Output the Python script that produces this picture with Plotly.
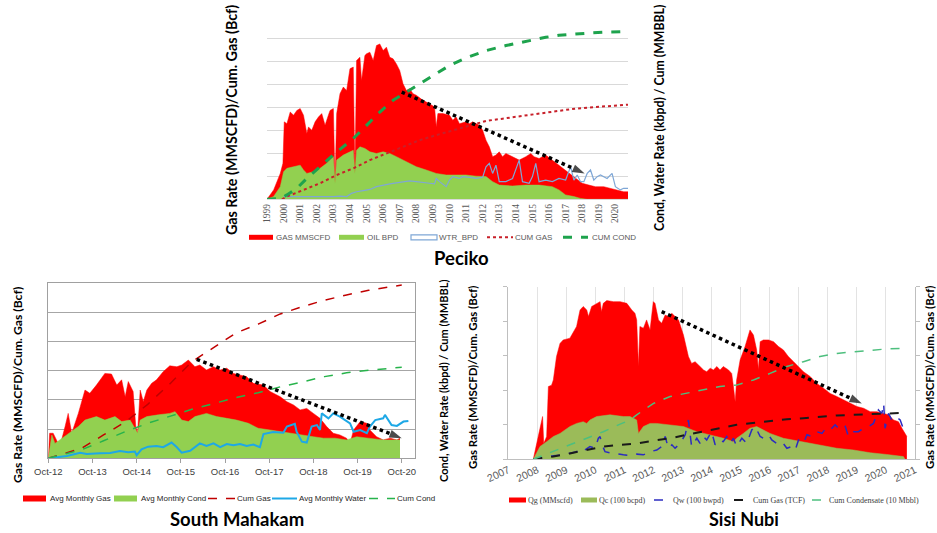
import plotly.graph_objects as go

W, H = 937, 533

# ======================= DATA =======================
# ---- Peciko (values in chart grid units; 8 gridlines) ----
pec_years = list(range(1999, 2021))
pec_ticktext = [str(y) for y in pec_years]
pec_names = ["GAS MMSCFD", "OIL BPD", "WTR_BPD", "CUM GAS", "CUM COND"]

pec_gas_x = [1999.0, 1999.4, 1999.8, 1999.96, 2000.04, 2000.2, 2000.4, 2000.6, 2000.8, 2001.0,
             2001.2, 2001.4, 2001.5, 2001.7, 2001.9, 2002.1, 2002.3, 2002.5, 2002.7, 2002.8,
             2003.0, 2003.1, 2003.2, 2003.4, 2003.6, 2003.8, 2004.0, 2004.2, 2004.3, 2004.4,
             2004.6, 2004.7, 2004.9, 2005.0, 2005.2, 2005.4, 2005.6, 2005.8, 2006.0, 2006.2,
             2006.4, 2006.6, 2006.8, 2007.0, 2007.2, 2007.4, 2007.6, 2007.8, 2008.0, 2008.4,
             2008.8, 2009.1, 2009.2, 2009.3, 2009.6, 2010.0, 2010.2, 2010.4, 2010.6, 2011.0,
             2011.2, 2011.4, 2011.8, 2012.0, 2012.2, 2012.4, 2012.6, 2012.8, 2013.0, 2013.2,
             2013.4, 2013.8, 2014.2, 2014.6, 2014.9, 2015.1, 2015.4, 2015.8, 2016.2, 2016.4,
             2016.8, 2017.2, 2017.6, 2018.0, 2018.4, 2018.8, 2019.3, 2019.7, 2020.1, 2020.5, 2020.76]
pec_gas_y = [0, 0.41, 1.13, 1.57, 3.38, 3.30, 3.81, 3.67, 3.88, 3.96,
             3.67, 2.87, 3.16, 3.01, 3.38, 3.59, 3.74, 3.23, 3.67, 3.88,
             3.96, 0.70, 3.74, 4.61, 4.90, 4.75, 5.70, 5.77, 1.13, 6.06,
             6.20, 5.19, 6.28, 6.35, 6.42, 6.06, 6.71, 6.78, 6.49, 6.64,
             6.20, 6.13, 5.91, 5.62, 5.04, 4.75, 4.83, 4.61, 4.54, 4.32,
             4.17, 4.03, 3.16, 3.74, 3.74, 3.67, 3.45, 3.59, 3.30, 3.38,
             3.30, 3.38, 3.23, 3.01, 2.58, 2.29, 1.86, 1.93, 2.07, 1.86,
             2.00, 1.86, 1.71, 1.86, 2.00, 1.86, 1.78, 1.93, 1.71, 1.57,
             1.35, 1.13, 0.91, 0.70, 0.62, 0.55, 0.55, 0.48, 0.41, 0.33, 0.33]

pec_oil_x = [1999.0, 1999.4, 1999.8, 2000.0, 2000.2, 2000.6, 2001.0, 2001.2, 2001.4, 2001.8,
             2002.2, 2002.6, 2003.0, 2003.1, 2003.2, 2003.6, 2004.0, 2004.2, 2004.3, 2004.4,
             2004.6, 2004.9, 2005.2, 2005.6, 2006.0, 2006.4, 2006.8, 2007.2, 2007.6, 2008.0,
             2008.6, 2009.2, 2009.8, 2010.4, 2011.0, 2011.6, 2012.2, 2012.6, 2013.0, 2013.8,
             2014.6, 2015.4, 2016.2, 2016.6, 2017.0, 2017.5, 2017.9, 2018.3, 2020.76]
pec_oil_y = [0, 0.12, 0.55, 1.20, 1.35, 1.42, 1.49, 1.28, 1.13, 1.20,
             1.35, 1.57, 1.86, 0.70, 1.71, 1.93, 2.07, 2.14, 1.13, 2.14,
             2.29, 2.22, 2.07, 2.00, 2.07, 2.00, 1.86, 1.71, 1.57, 1.42,
             1.28, 1.13, 1.06, 1.06, 1.06, 1.01, 0.99, 0.77, 0.62, 0.58,
             0.62, 0.62, 0.55, 0.41, 0.19, 0.12, 0.04, 0, 0]

pec_wtr_x = [2000.0, 2001.2, 2002.2, 2003.0, 2003.4, 2003.8, 2004.1, 2004.4, 2004.8, 2005.2,
             2005.6, 2006.0, 2006.4, 2006.8, 2007.2, 2007.6, 2008.0, 2008.4, 2008.8, 2009.1,
             2009.2, 2009.4, 2009.8, 2010.0, 2010.2, 2010.6, 2010.8, 2011.2, 2011.6, 2012.0,
             2012.2, 2012.4, 2012.6, 2012.8, 2013.0, 2013.4, 2013.8, 2014.2, 2014.4, 2014.8,
             2015.0, 2015.2, 2015.4, 2015.8, 2016.2, 2016.6, 2017.0, 2017.3, 2017.5, 2017.7,
             2017.9, 2018.1, 2018.3, 2018.5, 2018.7, 2018.9, 2019.1, 2019.5, 2019.8, 2020.0,
             2020.3, 2020.5, 2020.76]
pec_wtr_y = [0.12, 0.12, 0.09, 0.12, 0.14, 0.12, 0.26, 0.33, 0.38, 0.43,
             0.55, 0.62, 0.67, 0.72, 0.77, 0.80, 0.77, 0.72, 0.70, 0.67,
             0.91, 0.77, 0.55, 0.84, 0.99, 0.91, 0.99, 0.96, 0.91, 0.96,
             1.42, 1.57, 1.13, 1.49, 0.77, 0.77, 0.91, 1.71, 0.77, 0.70,
             0.99, 1.57, 0.77, 0.84, 0.77, 0.91, 0.84, 1.42, 0.84, 1.06,
             0.77, 0.77, 1.13, 1.28, 0.84, 0.99, 1.06, 0.91, 1.13, 0.55,
             0.41, 0.48, 0.48]

pec_cumgas_x = [1999.9, 2000.2, 2001.2, 2002.2, 2003.2, 2004.2, 2005.2, 2006.2, 2007.2, 2008.2, 2009.2,
                2010.2, 2011.4, 2012.2, 2013.2, 2014.2, 2015.2, 2016.2, 2017.3, 2018.3, 2019.3, 2020.76]
pec_cumgas_y = [0, 0.12, 0.41, 0.70, 1.06, 1.35, 1.71, 2.00, 2.29, 2.58, 2.80,
                3.01, 3.28, 3.42, 3.52, 3.62, 3.74, 3.84, 3.93, 4.00, 4.06, 4.13]

pec_cumcond_x = [1999.0, 1999.8, 2000.2, 2000.8, 2001.4, 2002.2, 2003.1, 2004.2, 2005.0, 2005.8,
                 2006.6, 2007.4, 2008.2, 2009.0, 2010.0, 2011.0, 2012.2, 2013.4, 2014.6, 2015.8,
                 2016.6, 2017.5, 2018.3, 2019.3, 2020.76]
pec_cumcond_y = [0, 0.04, 0.19, 0.48, 0.91, 1.42, 2.00, 2.65, 3.23, 3.81,
                 4.32, 4.68, 5.04, 5.41, 5.84, 6.17, 6.49, 6.71, 6.90, 7.07,
                 7.16, 7.22, 7.25, 7.29, 7.33]

pec_trend_x = [2007.12, 2018.15]
pec_trend_y = [4.68, 1.13]

# ---- South Mahakam (6 gridlines) ----
sm_tickvals = [2012.75, 2013.75, 2014.75, 2015.75, 2016.75, 2017.75, 2018.75, 2019.75, 2020.75]
sm_ticktext = ["Oct-12", "Oct-13", "Oct-14", "Oct-15", "Oct-16", "Oct-17", "Oct-18", "Oct-19", "Oct-20"]
sm_names = ["Avg Monthly Gas", "Avg Monthly Cond", "Cum Gas", "Avg Monthly Water", "Cum Cond"]

sm_gas_x = [2012.75, 2012.78, 2012.86, 2013.01, 2013.13, 2013.20, 2013.28, 2013.43, 2013.58, 2013.69,
            2013.84, 2014.03, 2014.18, 2014.30, 2014.41, 2014.49, 2014.56, 2014.67, 2014.73, 2014.77,
            2014.83, 2014.90, 2014.98, 2015.09, 2015.20, 2015.35, 2015.50, 2015.66, 2015.77, 2015.92,
            2016.07, 2016.18, 2016.33, 2016.49, 2016.64, 2016.79, 2016.94, 2017.09, 2017.24, 2017.39,
            2017.62, 2017.77, 2018.00, 2018.15, 2018.30, 2018.45, 2018.60, 2018.75, 2018.90, 2019.05,
            2019.20, 2019.35, 2019.50, 2019.58, 2019.66, 2019.81, 2019.96, 2020.03, 2020.18, 2020.33,
            2020.49, 2020.64, 2020.71]
sm_gas_y = [0, 0.86, 0.86, 0.40, 1.09, 1.54, 0.86, 1.54, 2.34, 2.23,
            2.51, 2.91, 2.89, 2.51, 2.69, 2.11, 2.63, 2.29, 1.09, 0.86,
            2.34, 1.94, 2.34, 2.57, 2.69, 2.97, 3.17, 3.14, 3.20, 3.37,
            3.14, 3.20, 3.03, 3.14, 3.03, 3.09, 2.91, 2.86, 2.80, 2.57,
            2.51, 2.29, 2.11, 1.94, 1.83, 1.66, 1.71, 1.54, 1.37, 1.09,
            0.86, 0.80, 0.69, 0.51, 0.97, 1.26, 1.20, 0.97, 0.74, 0.63,
            0.69, 0.63, 0.69]

sm_cond_x = [2012.75, 2012.83, 2012.90, 2013.01, 2013.20, 2013.43, 2013.58, 2013.84, 2014.03, 2014.26,
             2014.41, 2014.60, 2014.71, 2014.77, 2014.83, 2014.98, 2015.24, 2015.50, 2015.62, 2015.77,
             2015.92, 2016.07, 2016.33, 2016.56, 2016.79, 2017.01, 2017.28, 2017.50, 2017.77, 2018.00,
             2018.26, 2018.49, 2018.75, 2018.98, 2019.24, 2019.50, 2019.73, 2019.99, 2020.33, 2020.71]
sm_cond_y = [0, 0.80, 0.51, 0.63, 0.86, 1.09, 1.31, 1.43, 1.31, 1.43,
             1.26, 1.31, 1.03, 0.86, 1.31, 1.43, 1.49, 1.54, 1.60, 1.31,
             1.26, 1.43, 1.54, 1.43, 1.37, 1.31, 1.20, 1.03, 0.97, 0.91,
             0.86, 0.80, 0.74, 0.69, 0.69, 0.63, 0.74, 0.69, 0.63, 0.63]

sm_cumgas_x = [2012.75, 2013.5, 2014.0, 2014.5, 2015.0, 2015.5, 2016.0, 2016.5,
               2017.0, 2017.5, 2018.0, 2018.5, 2019.0, 2019.5, 2020.0, 2020.75]
sm_cumgas_y = [0, 0.34, 0.80, 1.25, 1.85, 2.55, 3.31, 3.80,
               4.30, 4.60, 4.95, 5.20, 5.42, 5.60, 5.76, 5.94]

sm_wtr_x = [2012.75, 2013.17, 2013.47, 2013.62, 2013.92, 2014.15, 2014.37, 2014.56, 2014.71, 2014.75,
            2014.86, 2015.01, 2015.20, 2015.35, 2015.54, 2015.66, 2015.77, 2015.96, 2016.18, 2016.33,
            2016.49, 2016.64, 2016.79, 2016.94, 2017.09, 2017.24, 2017.39, 2017.54, 2017.62, 2017.84,
            2018.07, 2018.15, 2018.33, 2018.37, 2018.49, 2018.60, 2018.71, 2018.83, 2018.90, 2018.94,
            2019.09, 2019.20, 2019.35, 2019.58, 2019.66, 2019.81, 2019.96, 2020.03, 2020.15, 2020.33,
            2020.37, 2020.52, 2020.64, 2020.79, 2020.90]
sm_wtr_y = [0, 0.08, 0.19, 0.15, 0.17, 0.18, 0.25, 0.21, 0.23, 0.11,
            0.31, 0.40, 0.42, 0.38, 0.54, 0.38, 0.19, 0.26, 0.51, 0.42,
            0.51, 0.38, 0.49, 0.45, 0.49, 0.42, 0.47, 0.38, 0.83, 0.90,
            0.88, 1.09, 1.18, 0.91, 0.57, 0.54, 1.09, 1.14, 0.97, 1.54,
            1.37, 1.54, 1.43, 1.20, 0.91, 0.97, 0.86, 1.09, 1.31, 1.37,
            1.49, 1.14, 1.11, 1.26, 1.28]

sm_cumcond_x = [2012.75, 2013.5, 2014.0, 2014.5, 2015.0, 2015.5, 2016.0, 2016.5,
                2017.0, 2017.5, 2018.0, 2018.5, 2019.0, 2019.5, 2020.0, 2020.75]
sm_cumcond_y = [0, 0.29, 0.60, 0.92, 1.20, 1.45, 1.68, 1.88,
                2.08, 2.25, 2.45, 2.62, 2.80, 2.93, 3.02, 3.12]

sm_trend_x = [2016.11, 2020.75]
sm_trend_y = [3.39, 0.69]

# ---- Sisi Nubi (5 tick intervals) ----
sn_years = list(range(2007, 2022))
sn_ticktext = [str(y) for y in sn_years]
sn_names = ["Qg (MMscfd)", "Qc (100 bcpd)", "Qw (100 bwpd)", "Cum Gas (TCF)", "Cum Condensate (10 Mbbl)"]

sn_gas_x = [2007.86, 2007.98, 2008.09, 2008.18, 2008.22, 2008.32, 2008.38, 2008.49, 2008.55, 2008.66,
            2008.78, 2008.89, 2009.12, 2009.35, 2009.47, 2009.58, 2009.70, 2009.76, 2009.87, 2010.04,
            2010.16, 2010.21, 2010.27, 2010.39, 2010.62, 2010.85, 2011.08, 2011.25, 2011.36, 2011.42,
            2011.48, 2011.53, 2011.65, 2011.76, 2011.88, 2011.99, 2012.05, 2012.17, 2012.28, 2012.40,
            2012.51, 2012.63, 2012.74, 2012.86, 2013.03, 2013.20, 2013.31, 2013.43, 2013.60, 2013.72,
            2013.83, 2013.95, 2014.06, 2014.18, 2014.29, 2014.40, 2014.58, 2014.69, 2014.75, 2014.81,
            2014.86, 2014.98, 2015.15, 2015.32, 2015.44, 2015.55, 2015.61, 2015.67, 2015.78, 2015.96,
            2016.13, 2016.30, 2016.47, 2016.64, 2016.82, 2016.99, 2017.16, 2017.39, 2017.62, 2017.85,
            2018.08, 2018.31, 2018.54, 2018.77, 2019.00, 2019.23, 2019.46, 2019.69, 2019.92, 2020.09,
            2020.26, 2020.43, 2020.55, 2020.66, 2020.72]
sn_gas_y = [0, 0.46, 0.95, 1.24, 0.46, 0.66, 2.11, 2.15, 2.30, 2.98,
            3.36, 3.46, 3.51, 3.85, 4.33, 4.43, 4.33, 4.14, 4.43, 4.52,
            4.57, 4.28, 4.52, 4.60, 4.57, 4.57, 4.52, 4.33, 4.23, 4.04,
            2.69, 3.85, 3.80, 4.04, 3.75, 4.57, 4.52, 4.04, 3.94, 4.18,
            4.14, 4.23, 4.14, 4.04, 3.60, 2.98, 2.78, 2.83, 2.69, 2.59,
            2.54, 2.64, 2.59, 2.69, 2.59, 2.69, 2.59, 2.49, 2.11, 1.67,
            2.30, 2.88, 3.27, 3.75, 3.60, 3.17, 2.59, 3.41, 3.46, 3.46,
            3.41, 3.27, 3.17, 2.98, 2.83, 2.69, 2.54, 2.40, 2.20, 2.06,
            1.91, 1.82, 1.72, 1.62, 1.53, 1.48, 1.38, 1.38, 1.33, 1.29,
            1.14, 1.09, 0.90, 0.75, 0.66]

sn_cond_x = [2007.86, 2008.09, 2008.32, 2008.55, 2008.78, 2009.12, 2009.35, 2009.58, 2009.70, 2009.81,
             2010.04, 2010.50, 2010.96, 2011.19, 2011.42, 2011.48, 2011.65, 2011.88, 2012.11, 2012.57,
             2013.03, 2013.49, 2013.95, 2014.41, 2014.75, 2014.86, 2015.09, 2015.32, 2015.55, 2015.78,
             2016.01, 2016.47, 2016.93, 2017.16, 2017.73, 2018.31, 2018.88, 2019.46, 2020.03, 2020.60, 2020.66]
sn_cond_y = [0, 0.37, 0.51, 0.66, 0.75, 0.95, 1.04, 1.09, 1.04, 1.14,
             1.24, 1.29, 1.24, 1.24, 1.14, 0.75, 0.95, 1.04, 1.04, 1.00,
             0.95, 0.80, 0.71, 0.61, 0.51, 0.61, 0.75, 0.90, 0.95, 0.85,
             0.75, 0.61, 0.54, 0.51, 0.42, 0.32, 0.27, 0.19, 0.14, 0.08, 0]

sn_wtr_x = [2007.86, 2008.20, 2008.55, 2008.90, 2009.12, 2009.35, 2009.52, 2009.64, 2009.81, 2009.99,
            2010.10, 2010.16, 2010.21, 2010.33, 2010.50, 2010.73, 2010.96, 2011.19, 2011.42, 2011.65,
            2011.88, 2012.11, 2012.28, 2012.40, 2012.51, 2012.63, 2012.74, 2012.91, 2013.09, 2013.20,
            2013.31, 2013.49, 2013.60, 2013.72, 2013.83, 2014.00, 2014.12, 2014.23, 2014.40, 2014.52,
            2014.64, 2014.75, 2014.86, 2015.04, 2015.21, 2015.38, 2015.50, 2015.67, 2015.78, 2015.96,
            2016.07, 2016.24, 2016.42, 2016.59, 2016.76, 2016.88, 2016.99, 2017.16, 2017.28, 2017.45,
            2017.62, 2017.80, 2017.97, 2018.14, 2018.25, 2018.43, 2018.60, 2018.71, 2018.88, 2019.05,
            2019.23, 2019.40, 2019.57, 2019.74, 2019.86, 2019.92, 2019.97, 2020.09, 2020.20, 2020.32,
            2020.49, 2020.66]
sn_wtr_y = [0, 0.06, 0.10, 0.13, 0.17, 0.22, 0.32, 0.27, 0.37, 0.32,
            0.61, 0.66, 0.46, 0.22, 0.19, 0.15, 0.13, 0.11, 0.15, 0.13,
            0.22, 0.27, 0.37, 0.66, 0.32, 0.42, 0.32, 0.46, 0.71, 1.14,
            0.37, 0.61, 0.46, 0.66, 0.56, 0.80, 0.42, 0.56, 0.51, 0.66,
            0.46, 0.61, 0.37, 0.61, 0.46, 0.85, 0.95, 0.66, 0.61, 0.71,
            0.56, 0.46, 0.51, 0.32, 0.37, 0.27, 0.56, 0.46, 0.71, 0.66,
            0.80, 0.75, 0.95, 0.90, 1.00, 0.85, 0.95, 0.66, 0.80, 0.80,
            0.90, 0.95, 1.04, 1.43, 1.33, 1.62, 0.90, 1.33, 1.14, 1.24,
            1.14, 0.75]

sn_cumgas_x = [2007.86, 2008.55, 2009.12, 2009.70, 2010.27, 2010.85, 2011.42, 2012.00, 2012.57, 2013.14, 2013.72, 2014.29,
               2014.86, 2015.44, 2016.01, 2016.59, 2017.16, 2017.73, 2018.31, 2018.88, 2019.46, 2020.03, 2020.72]
sn_cumgas_y = [0, 0.08, 0.17, 0.27, 0.37, 0.42, 0.46, 0.54, 0.61, 0.71, 0.80, 0.90,
               1.00, 1.06, 1.12, 1.16, 1.19, 1.24, 1.27, 1.29, 1.31, 1.33, 1.35]

sn_cumcond_x = [2007.86, 2008.55, 2009.12, 2009.70, 2010.27, 2010.85, 2011.19, 2011.42, 2012.00, 2012.57, 2013.14, 2013.72,
                2014.29, 2014.86, 2015.44, 2016.01, 2016.59, 2017.16, 2017.73, 2018.31, 2018.88, 2019.46, 2020.03, 2020.72]
sn_cumcond_y = [0, 0.22, 0.42, 0.61, 0.80, 1.02, 1.14, 1.29, 1.62, 1.82, 1.91, 2.01,
                2.11, 2.15, 2.30, 2.49, 2.69, 2.83, 2.98, 3.07, 3.12, 3.17, 3.20, 3.22]

sn_trend_x = [2012.28, 2019.17]
sn_trend_y = [4.28, 1.62]

# ======================= STYLES =======================
RED = "#FF0000"
GREEN = "#92D050"
OLIVE = "#9BBB59"

fig = go.Figure()


def add_area(x, y, name, color, ax):
    fig.add_trace(go.Scatter(x=x, y=y, name=name, mode="lines", fill="tozeroy",
                             fillcolor=color, line=dict(color=color, width=0.5),
                             xaxis="x" + ax, yaxis="y" + ax, showlegend=False))


def add_line(x, y, name, color, width, dash, ax):
    fig.add_trace(go.Scatter(x=x, y=y, name=name, mode="lines",
                             line=dict(color=color, width=width, dash=dash),
                             xaxis="x" + ax, yaxis="y" + ax, showlegend=False))


def add_trend(x, y, ax):
    fig.add_trace(go.Scatter(x=x, y=y, mode="lines+markers", name="trend",
                             line=dict(color="black", width=3.5, dash="dot"),
                             marker=dict(symbol="arrow", size=[0, 13], angleref="previous",
                                         color="black", line=dict(width=0)),
                             xaxis="x" + ax, yaxis="y" + ax, showlegend=False))


# Peciko
add_area(pec_gas_x, pec_gas_y, pec_names[0], RED, "")
add_area(pec_oil_x, pec_oil_y, pec_names[1], GREEN, "")
add_line(pec_wtr_x, pec_wtr_y, pec_names[2], "#7FA7D6", 1.2, "solid", "")
add_line(pec_cumgas_x, pec_cumgas_y, pec_names[3], "#C8202A", 2, "dot", "")
add_line(pec_cumcond_x, pec_cumcond_y, pec_names[4], "#1EA34D", 3, "dash", "")
add_trend(pec_trend_x, pec_trend_y, "")

# South Mahakam
add_area(sm_gas_x, sm_gas_y, sm_names[0], RED, "2")
add_area(sm_cond_x, sm_cond_y, sm_names[1], GREEN, "2")
add_line(sm_cumgas_x, sm_cumgas_y, sm_names[2], "#C00000", 1.5, "dash", "2")
add_line(sm_wtr_x, sm_wtr_y, sm_names[3], "#1EA8E6", 2, "solid", "2")
add_line(sm_cumcond_x, sm_cumcond_y, sm_names[4], "#27B34B", 1.5, "dash", "2")
add_trend(sm_trend_x, sm_trend_y, "2")

# Sisi Nubi
add_area(sn_gas_x, sn_gas_y, sn_names[0], RED, "3")
add_area(sn_cond_x, sn_cond_y, sn_names[1], OLIVE, "3")
add_line(sn_wtr_x, sn_wtr_y, sn_names[2], "#2B2BC0", 1.5, "dash", "3")
add_line(sn_cumgas_x, sn_cumgas_y, sn_names[3], "#1A1A1A", 2, "dash", "3")
add_line(sn_cumcond_x, sn_cumcond_y, sn_names[4], "#4DBF7E", 1.5, "dash", "3")
add_trend(sn_trend_x, sn_trend_y, "3")


def px_x(v):
    return v / W


def px_y(v):
    return 1 - v / H


def legend_item(kind, x0, x1, yc, h, color, label, tx, font, dash="solid", lw=2):
    if kind == "rect":
        fig.add_shape(type="rect", xref="paper", yref="paper", x0=px_x(x0), x1=px_x(x1),
                      y0=px_y(yc + h / 2), y1=px_y(yc - h / 2), fillcolor=color, line=dict(width=0))
    elif kind == "outline":
        fig.add_shape(type="rect", xref="paper", yref="paper", x0=px_x(x0), x1=px_x(x1),
                      y0=px_y(yc + h / 2), y1=px_y(yc - h / 2), fillcolor="white",
                      line=dict(color=color, width=1.2))
    else:
        fig.add_shape(type="line", xref="paper", yref="paper", x0=px_x(x0), x1=px_x(x1),
                      y0=px_y(yc), y1=px_y(yc), line=dict(color=color, width=lw, dash=dash))
    fig.add_annotation(x=px_x(tx), y=px_y(yc), xref="paper", yref="paper", text=label,
                       showarrow=False, xanchor="left", yanchor="middle", font=font)


pf = dict(family="Liberation Sans", size=8, color="#595959")
legend_item("rect", 249, 273, 237.3, 5, RED, pec_names[0], 274, pf)
legend_item("rect", 339, 364, 237.3, 5, GREEN, pec_names[1], 365, pf)
legend_item("outline", 411, 437, 237.3, 5, "#7FA7D6", pec_names[2], 437, pf)
legend_item("line", 487, 513, 237.3, 0, "#C8202A", pec_names[3], 513, pf, "dot", 2)
legend_item("line", 563, 588, 237.3, 0, "#1EA34D", pec_names[4], 590, pf, "dash", 3)

sf = dict(family="Liberation Sans", size=8, color="#262626")
legend_item("rect", 23, 46, 498.5, 6, RED, sm_names[0], 48, sf)
legend_item("rect", 114, 137, 498.5, 6, GREEN, sm_names[1], 139, sf)
legend_item("line", 208, 235, 498.5, 0, "#C00000", sm_names[2], 235, sf, "dash", 1.5)
legend_item("line", 272, 297, 498.5, 0, "#1EA8E6", sm_names[3], 297, sf, "solid", 2)
legend_item("line", 369, 395, 498.5, 0, "#27B34B", sm_names[4], 395, sf, "dash", 1.5)

nf = dict(family="Liberation Serif", size=8, color="#404040")
legend_item("rect", 509, 526, 500, 5, RED, sn_names[0], 526, nf)
legend_item("rect", 581, 597, 500, 5, OLIVE, sn_names[1], 597, nf)
legend_item("line", 654, 670, 500, 0, "#2B2BC0", sn_names[2], 671, nf, "dash", 1.5)
legend_item("line", 734, 751, 500, 0, "#1A1A1A", sn_names[3], 751, nf, "dash", 2)
legend_item("line", 812, 827, 500, 0, "#4DBF7E", sn_names[4], 827, nf, "dash", 1.5)


def title(text, x, y, size):
    fig.add_annotation(x=px_x(x), y=px_y(y), xref="paper", yref="paper", text=text,
                       showarrow=False, xanchor="center", yanchor="middle",
                       font=dict(family="Lato", size=size, color="black", weight="bold"))


def vtitle(text, x, y, size):
    fig.add_annotation(x=px_x(x), y=px_y(y), xref="paper", yref="paper", text=text,
                       showarrow=False, xanchor="center", yanchor="middle", textangle=-90,
                       font=dict(family="Lato", size=size, color="black", weight="bold"))


title("Peciko", 461, 258, 18.5)
title("South Mahakam", 237, 519, 18.5)
title("Sisi Nubi", 744, 519, 18)

vtitle("Gas Rate (MMSCFD)/Cum. Gas (Bcf)", 231, 120, 14.3)
vtitle("Cond, Water Rate (kbpd) / Cum (MMBBL)", 659, 118, 12.3)
vtitle("Gas Rate (MMSCFD)/Cum. Gas (Bcf)", 17, 385, 12.2)
vtitle("Cond, Water Rate (kbpd) / Cum (MMBBL)", 443, 381, 11)
vtitle("Gas Rate (MMSCFD)/Cum. Gas (Bcf)", 472, 378, 11.4)
vtitle("Gas Rate (MMSCFD)/Cum. Gas (Bcf)", 929, 378, 11.4)

fig.update_layout(
    width=W, height=H, margin=dict(l=0, r=0, t=0, b=0, pad=0, autoexpand=False),
    paper_bgcolor="white", plot_bgcolor="white", showlegend=False,
    # Peciko
    xaxis=dict(domain=[267 / W, 628 / W], range=[1999, 2020.76], anchor="y", automargin=False,
               tickmode="array", tickvals=pec_years, ticktext=pec_ticktext, tickangle=-90,
               tickfont=dict(family="Liberation Serif", size=9.5, color="#595959"),
               showgrid=False, zeroline=False, showline=True, linecolor="#D9D9D9", ticks=""),
    yaxis=dict(domain=[1 - 199.3 / H, 1 - 16 / H], range=[0, 8], dtick=1, anchor="x", automargin=False,
               showgrid=True, gridcolor="#D9D9D9", gridwidth=1, zeroline=False,
               showticklabels=False, ticks=""),
    # South Mahakam
    xaxis2=dict(domain=[48.3 / W, 415 / W], range=[2012.75, 2021.05], anchor="y2", automargin=False,
                tickmode="array", tickvals=sm_tickvals, ticktext=sm_ticktext,
                tickfont=dict(family="Liberation Sans", size=9.5, color="#404040"),
                ticks="outside", ticklen=4, tickcolor="#A0A0A0",
                showgrid=False, zeroline=False, showline=True, linecolor="#A0A0A0", mirror=True),
    yaxis2=dict(domain=[1 - 458.3 / H, 1 - 283.3 / H], range=[0, 6], dtick=1, anchor="x2", automargin=False,
                showgrid=True, gridcolor="#A6A6A6", gridwidth=1, zeroline=False,
                showticklabels=False, ticks="", showline=True, linecolor="#A0A0A0", mirror=True),
    # Sisi Nubi
    xaxis3=dict(domain=[508.3 / W, 915 / W], range=[2007, 2021], anchor="y3", automargin=False,
                tickmode="array", tickvals=sn_years, ticktext=sn_ticktext, tickangle=-25,
                tickfont=dict(family="Liberation Sans", size=10.5, color="#595959"),
                showgrid=True, gridcolor="#E3E3E3", zeroline=False,
                showline=True, linecolor="#BFBFBF", ticks=""),
    yaxis3=dict(domain=[1 - 459.3 / H, 1 - 286.8 / H], range=[0, 5], dtick=1, anchor="x3", automargin=False,
                showgrid=False, zeroline=False, showticklabels=False,
                showline=True, linecolor="#BFBFBF", mirror="ticks",
                ticks="outside", ticklen=4, tickcolor="#BFBFBF"),
)

fig.write_html("out.html")
